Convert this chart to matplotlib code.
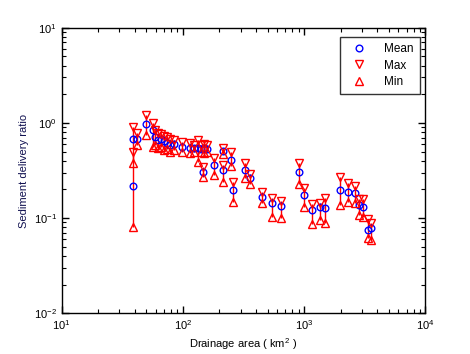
from matplotlib import pyplot as plt
import numpy as np

plt.rcParams['font.family'] = ['Liberation Sans', 'DejaVu Sans']
plt.rcParams['mathtext.fontset'] = 'custom'
plt.rcParams['mathtext.rm'] = 'Liberation Sans'
plt.rcParams['mathtext.it'] = 'Liberation Sans:italic'

# drainage area (km2) and sediment delivery ratio (mean / max / min)
area = [38.5, 38.8, 42.0, 49.3, 56.3, 58.9, 62.3, 65.9, 69.8, 73.9, 78.3, 84.5,
        97.7, 114.5, 123.5, 134, 141, 149, 158, 147, 180.5, 213, 215, 248, 260,
        325, 358, 447, 541, 641, 913, 1005, 1162, 1352, 1487, 1979, 2290, 2630,
        2850, 3080, 3390, 3545]
sdr_mean = [0.678, 0.217, 0.678, 0.973, 0.842, 0.711, 0.661, 0.678, 0.646, 0.615,
            0.586, 0.600, 0.558, 0.545, 0.538, 0.545, 0.532, 0.545, 0.532, 0.307,
            0.361, 0.507, 0.320, 0.408, 0.197, 0.320, 0.262, 0.168, 0.143, 0.134,
            0.307, 0.175, 0.122, 0.130, 0.127, 0.197, 0.189, 0.182, 0.137, 0.130,
            0.075, 0.0787]
sdr_max = [0.905, 0.494, 0.789, 1.21, 0.99, 0.842, 0.783, 0.764, 0.728, 0.711,
           0.678, 0.661, 0.631, 0.615, 0.586, 0.661, 0.586, 0.600, 0.586, 0.347,
           0.431, 0.545, 0.361, 0.498, 0.241, 0.376, 0.288, 0.189, 0.164, 0.152,
           0.382, 0.209, 0.141, 0.145, 0.164, 0.272, 0.235, 0.219, 0.159, 0.159,
           0.098, 0.089]
sdr_min = [0.379, 0.081, 0.586, 0.746, 0.562, 0.586, 0.545, 0.558, 0.519, 0.532,
           0.497, 0.519, 0.494, 0.483, 0.494, 0.391, 0.494, 0.483, 0.494, 0.272,
           0.284, 0.472, 0.241, 0.355, 0.149, 0.262, 0.226, 0.143, 0.103, 0.0995,
           0.228, 0.130, 0.0867, 0.0955, 0.0882, 0.137, 0.149, 0.143, 0.108, 0.103,
           0.0614, 0.0589]

fig = plt.figure(figsize=(4.7, 3.54), dpi=100)
ax = fig.add_axes([0.131, 0.115, 0.774, 0.807])

ax.vlines(area, sdr_min, sdr_max, colors='red', linewidth=1.0, zorder=2)
ax.plot(area, sdr_mean, 'o', mfc='none', mec='blue', ms=4.8, mew=1.0,
        linestyle='none', label='Mean', zorder=3)
ax.plot(area, sdr_max, 'v', mfc='none', mec='red', ms=5.2, mew=1.0,
        linestyle='none', label='Max', zorder=4)
ax.plot(area, sdr_min, '^', mfc='none', mec='red', ms=5.2, mew=1.0,
        linestyle='none', label='Min', zorder=4)

ax.set_xscale('log')
ax.set_yscale('log')
ax.set_xlim(10, 1e4)
ax.set_ylim(1e-2, 10)

ax.tick_params(which='both', direction='in', top=True, right=True, labelsize=8)
ax.tick_params(which='major', length=5, width=1)
ax.tick_params(which='minor', length=3, width=0.8)
for s in ax.spines.values():
    s.set_linewidth(1.0)

ax.set_xlabel('Drainage area ( km$^2$ )', fontsize=8, labelpad=3)
ax.set_ylabel('Sediment delivery ratio', fontsize=8, color='#101050', labelpad=3)

leg = ax.legend(loc='upper right', bbox_to_anchor=(420 / 470, 1 - 37 / 354),
                bbox_transform=fig.transFigure, fontsize=8.5, frameon=True,
                fancybox=False, edgecolor='black', borderaxespad=0,
                handletextpad=1.0, borderpad=0.55, labelspacing=0.35,
                handlelength=2.2)
leg.get_frame().set_linewidth(1.0)

plt.savefig('out.png', dpi=100)
